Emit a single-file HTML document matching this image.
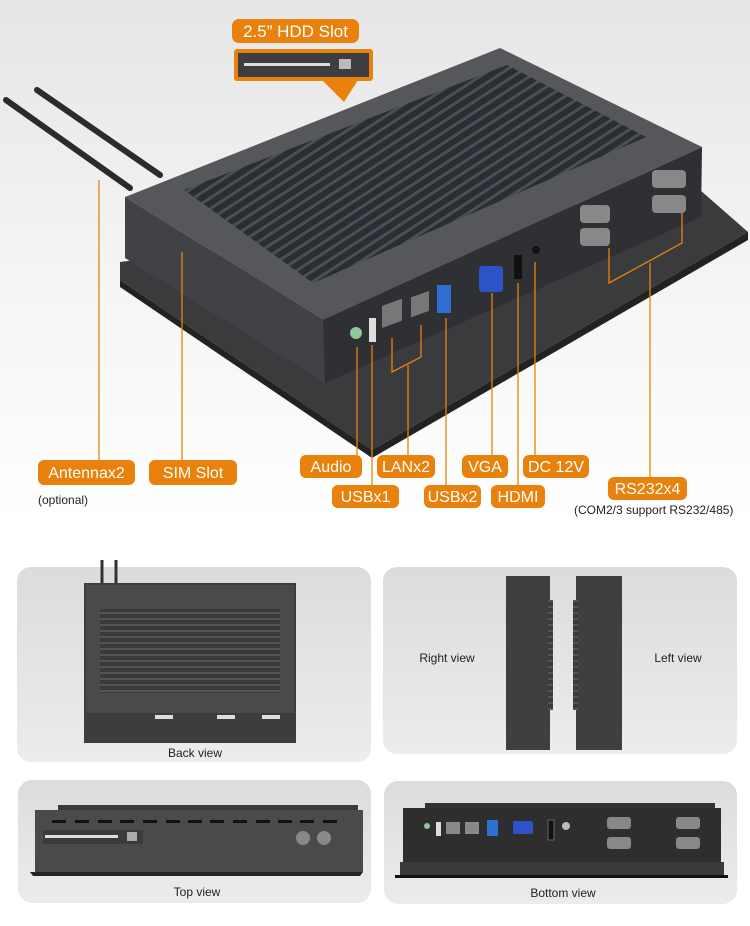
<!DOCTYPE html>
<html><head><meta charset="utf-8"><style>
html,body{margin:0;padding:0;background:#fff}
svg{display:block}
text{font-family:"Liberation Sans",sans-serif}
</style></head><body>
<svg width="750" height="926" viewBox="0 0 750 926" xmlns="http://www.w3.org/2000/svg">
<defs>
<linearGradient id="bg" x1="0" y1="0" x2="0" y2="1"><stop offset="0" stop-color="#e6e6e6"/><stop offset="0.6" stop-color="#f6f6f6"/><stop offset="1" stop-color="#ffffff"/></linearGradient>
<linearGradient id="pn" x1="0" y1="0" x2="0" y2="1"><stop offset="0" stop-color="#dcdcdc"/><stop offset="1" stop-color="#ececec"/></linearGradient>
<pattern id="fins" width="9" height="9" patternUnits="userSpaceOnUse" patternTransform="rotate(-33)"><rect width="9" height="9" fill="#2a2d31"/><rect width="9" height="3" fill="#4a4f56"/></pattern>
<pattern id="hfins" width="6" height="6" patternUnits="userSpaceOnUse"><rect width="6" height="6" fill="#3a3a3a"/><rect width="6" height="2" fill="#555"/></pattern>
</defs>
<rect width="750" height="520" fill="url(#bg)"/>
<!-- antennas -->
<line x1="6" y1="100" x2="130" y2="188" stroke="#2b2b2b" stroke-width="6" stroke-linecap="round"/>
<line x1="37" y1="90" x2="160" y2="175" stroke="#2b2b2b" stroke-width="6" stroke-linecap="round"/>
<!-- bezel -->
<polygon points="120,262 700,190 748,232 372,450 120,280" fill="#3a3b3d"/>
<polygon points="120,280 372,450 748,232 748,240 372,458 120,287" fill="#222"/>
<!-- box -->
<polygon points="125,197 500,48 702,147 323,320" fill="#55575a"/>
<polygon points="184,190 507,65 646,137 313,283" fill="url(#fins)"/>
<polygon points="125,197 323,320 325,383 125,258" fill="#404245"/>
<polygon points="323,320 702,147 701,217 325,383" fill="#2e3034"/>
<!-- ports -->
<circle cx="356" cy="333" r="6" fill="#8fc79a"/>
<rect x="369" y="318" width="7" height="24" fill="#ddd"/>
<rect x="382" y="305" width="20" height="22" fill="#777" transform="skewY(-20) translate(0,140)"/>
<rect x="411" y="297" width="18" height="20" fill="#777" transform="skewY(-20) translate(0,150)"/>
<rect x="437" y="285" width="14" height="28" fill="#2f6fd1"/>
<rect x="479" y="266" width="24" height="26" fill="#2c53c8" rx="3"/>
<rect x="514" y="255" width="8" height="24" fill="#111"/>
<circle cx="536" cy="250" r="4" fill="#111"/>
<rect x="580" y="205" width="30" height="18" fill="#888" rx="4"/>
<rect x="580" y="228" width="30" height="18" fill="#888" rx="4"/>
<rect x="652" y="170" width="34" height="18" fill="#888" rx="4"/>
<rect x="652" y="195" width="34" height="18" fill="#888" rx="4"/>
<!-- HDD callout -->
<polygon points="322,80 358,80 344,102" fill="#e8820c"/>
<rect x="234" y="49" width="139" height="32" rx="3" fill="#e8820c"/>
<rect x="238" y="53" width="131" height="24" fill="#3c3e41"/>
<rect x="244" y="63" width="86" height="3" fill="#ddd"/>
<rect x="339" y="59" width="12" height="10" fill="#bbb"/>
<rect x="232" y="19" width="127" height="24" rx="7" fill="#e8820c"/>
<text x="295.5" y="37" font-size="17" fill="#fff" text-anchor="middle">2.5” HDD Slot</text>
<!-- leaders -->
<g stroke="#e8820c" stroke-width="1.3" fill="none">
<path d="M99 180V460"/><path d="M182 252V460"/><path d="M357 347V455"/><path d="M372 345V485"/>
<path d="M392 338V372L421 357V325M408 365V455"/><path d="M446 318V485"/><path d="M492 293V455"/><path d="M518 283V485"/><path d="M535 262V455"/>
<path d="M609 248V283L682 243V212M650 263V477"/>
</g>
<g fill="#e8820c">
<rect x="38" y="460" width="97" height="25" rx="6"/><rect x="149" y="460" width="88" height="25" rx="6"/>
<rect x="300" y="455" width="62" height="23" rx="6"/><rect x="377" y="455" width="58" height="23" rx="6"/>
<rect x="462" y="455" width="46" height="23" rx="6"/><rect x="523" y="455" width="66" height="23" rx="6"/>
<rect x="332" y="485" width="67" height="23" rx="6"/><rect x="424" y="485" width="57" height="23" rx="6"/>
<rect x="491" y="485" width="54" height="23" rx="6"/><rect x="608" y="477" width="79" height="23" rx="6"/>
</g>
<g fill="#fff" font-size="16" text-anchor="middle">
<text x="86.5" y="478">Antennax2</text><text x="193" y="478">SIM Slot</text>
<text x="331" y="472">Audio</text><text x="406" y="472">LANx2</text><text x="485" y="472">VGA</text><text x="556" y="472">DC 12V</text>
<text x="365.5" y="502">USBx1</text><text x="452.5" y="502">USBx2</text><text x="518" y="502">HDMI</text><text x="647.5" y="494">RS232x4</text>
</g>
<text x="38" y="504" font-size="12" fill="#222">(optional)</text>
<text x="574" y="514" font-size="12" fill="#222">(COM2/3 support RS232/485)</text>
<!-- panels -->
<rect x="17" y="567" width="354" height="195" rx="14" fill="url(#pn)"/>
<rect x="383" y="567" width="354" height="187" rx="14" fill="url(#pn)"/>
<rect x="18" y="780" width="353" height="123" rx="14" fill="url(#pn)"/>
<rect x="384" y="781" width="353" height="123" rx="14" fill="url(#pn)"/>
<!-- back view -->
<line x1="102" y1="560" x2="102" y2="585" stroke="#333" stroke-width="3"/><line x1="116" y1="560" x2="116" y2="585" stroke="#333" stroke-width="3"/>
<rect x="84" y="583" width="212" height="160" fill="#3d3d3d"/>
<rect x="86" y="585" width="208" height="128" fill="#4a4a4a"/>
<rect x="100" y="609" width="180" height="84" fill="url(#hfins)"/>
<rect x="155" y="715" width="18" height="4" fill="#ddd"/><rect x="217" y="715" width="18" height="4" fill="#ddd"/><rect x="262" y="715" width="18" height="4" fill="#ddd"/>
<text x="195" y="757" font-size="12" fill="#222" text-anchor="middle">Back view</text>
<!-- side views -->
<rect x="506" y="576" width="44" height="174" fill="#3f3f3f"/>
<rect x="576" y="576" width="46" height="174" fill="#3f3f3f"/>
<rect x="548" y="600" width="5" height="110" fill="url(#hfins)"/><rect x="573" y="600" width="5" height="110" fill="url(#hfins)"/>
<text x="447" y="662" font-size="12" fill="#222" text-anchor="middle">Right view</text>
<text x="678" y="662" font-size="12" fill="#222" text-anchor="middle">Left view</text>
<!-- top view -->
<rect x="58" y="805" width="300" height="6" fill="#3a3a3a"/>
<rect x="35" y="810" width="328" height="62" fill="#4a4a4a"/>
<polygon points="30,872 363,872 360,876 33,876" fill="#222"/>
<g fill="#111"><rect x="52" y="820" width="14" height="3"/><rect x="75" y="820" width="14" height="3"/><rect x="98" y="820" width="14" height="3"/><rect x="120" y="820" width="14" height="3"/><rect x="143" y="820" width="14" height="3"/><rect x="166" y="820" width="14" height="3"/><rect x="188" y="820" width="14" height="3"/><rect x="210" y="820" width="14" height="3"/><rect x="233" y="820" width="14" height="3"/><rect x="256" y="820" width="14" height="3"/><rect x="278" y="820" width="14" height="3"/><rect x="300" y="820" width="14" height="3"/><rect x="323" y="820" width="14" height="3"/></g>
<rect x="43" y="830" width="100" height="14" fill="#3a3a3a"/><rect x="45" y="835" width="73" height="3" fill="#ddd"/><rect x="127" y="832" width="10" height="9" fill="#aaa"/>
<circle cx="303" cy="838" r="7" fill="#888"/><circle cx="324" cy="838" r="7" fill="#888"/>
<text x="197" y="896" font-size="12" fill="#222" text-anchor="middle">Top view</text>
<!-- bottom view -->
<rect x="425" y="803" width="290" height="6" fill="#333"/>
<rect x="403" y="808" width="318" height="55" fill="#2e2e2e"/>
<rect x="400" y="862" width="324" height="14" fill="#3a3a3a"/>
<rect x="395" y="875" width="333" height="3" fill="#111"/>
<circle cx="427" cy="826" r="3" fill="#8fc79a"/><rect x="436" y="822" width="5" height="14" fill="#ddd"/>
<rect x="446" y="822" width="14" height="12" fill="#888"/><rect x="465" y="822" width="14" height="12" fill="#888"/><rect x="487" y="820" width="11" height="16" fill="#2f6fd1"/>
<rect x="513" y="821" width="20" height="13" fill="#2c53c8" rx="2"/><rect x="548" y="820" width="6" height="20" fill="#111" stroke="#666"/><circle cx="566" cy="826" r="4" fill="#bbb"/>
<g fill="#888"><rect x="607" y="817" width="24" height="12" rx="3"/><rect x="607" y="837" width="24" height="12" rx="3"/><rect x="676" y="817" width="24" height="12" rx="3"/><rect x="676" y="837" width="24" height="12" rx="3"/></g>
<text x="563" y="897" font-size="12" fill="#222" text-anchor="middle">Bottom view</text>
</svg>
</body></html>
